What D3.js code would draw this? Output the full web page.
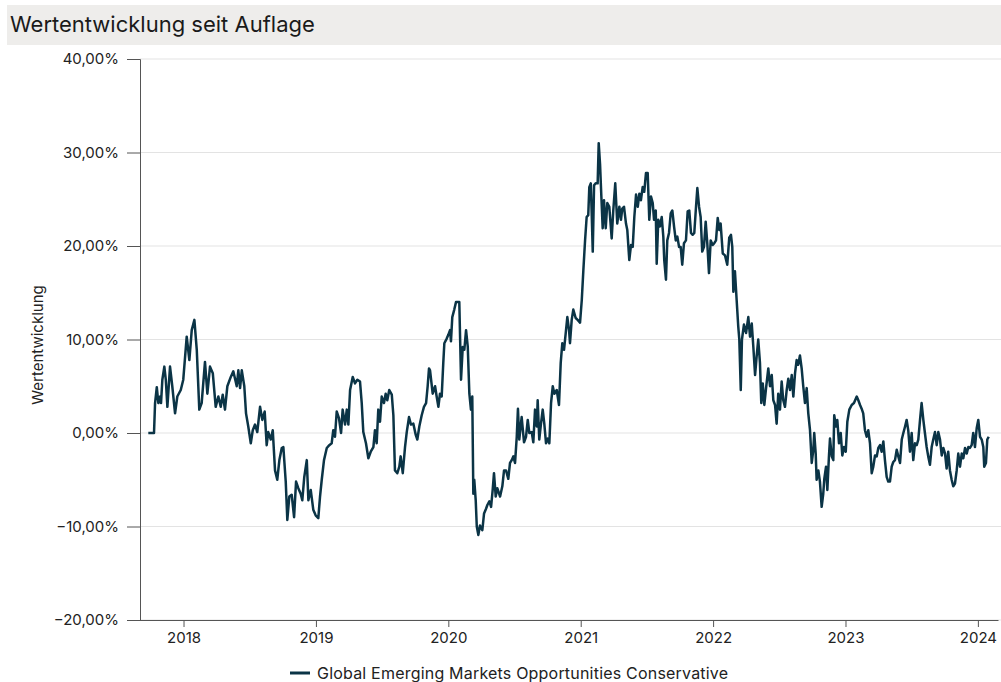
<!DOCTYPE html>
<html>
<head>
<meta charset="utf-8">
<script src="https://cdn.jsdelivr.net/npm/d3@7"></script>
<style>
  html, body { margin: 0; padding: 0; background: #fff; }
  svg { display: block; }
</style>
</head>
<body>
<div id="chart"></div>
<script>
// --- DATA ---
const TITLE = "Wertentwicklung seit Auflage";
const Y_TITLE = "Wertentwicklung";
const SERIES_NAME = "Global Emerging Markets Opportunities Conservative";
const yTicks = [-20, -10, 0, 10, 20, 30, 40];
const xTicks = [2018, 2019, 2020, 2021, 2022, 2023, 2024];

// time as decimal years
const dates = [
  2017.734, 2017.777, 2017.785, 2017.798, 2017.810, 2017.823, 2017.830, 2017.840, 2017.855, 2017.866,
  2017.878, 2017.898, 2017.915, 2017.936, 2017.953, 2017.979, 2017.998, 2018.024, 2018.044, 2018.062,
  2018.082, 2018.100, 2018.119, 2018.137, 2018.162, 2018.180, 2018.200, 2018.221, 2018.243, 2018.263,
  2018.281, 2018.296, 2018.313, 2018.331, 2018.357, 2018.376, 2018.402, 2018.414, 2018.427, 2018.440,
  2018.459, 2018.472, 2018.489, 2018.508, 2018.523, 2018.540, 2018.557, 2018.578, 2018.595, 2018.613,
  2018.628, 2018.640, 2018.659, 2018.674, 2018.691, 2018.708, 2018.724, 2018.742, 2018.754, 2018.772,
  2018.784, 2018.799, 2018.817, 2018.835, 2018.850, 2018.867, 2018.885, 2018.897, 2018.912, 2018.931,
  2018.943, 2018.961, 2018.980, 2018.998, 2019.018, 2019.031, 2019.044, 2019.061, 2019.082, 2019.101,
  2019.119, 2019.131, 2019.144, 2019.157, 2019.174, 2019.190, 2019.202, 2019.220, 2019.233, 2019.245,
  2019.258, 2019.278, 2019.295, 2019.313, 2019.333, 2019.346, 2019.358, 2019.378, 2019.396, 2019.414,
  2019.434, 2019.446, 2019.459, 2019.471, 2019.484, 2019.497, 2019.514, 2019.527, 2019.539, 2019.554,
  2019.573, 2019.585, 2019.597, 2019.615, 2019.630, 2019.640, 2019.656, 2019.673, 2019.686, 2019.703,
  2019.718, 2019.736, 2019.754, 2019.766, 2019.781, 2019.799, 2019.816, 2019.832, 2019.844, 2019.854,
  2019.862, 2019.882, 2019.900, 2019.912, 2019.925, 2019.937, 2019.950, 2019.962, 2019.970, 2019.988,
  2020.000, 2020.013, 2020.020, 2020.030, 2020.045, 2020.058, 2020.083, 2020.096, 2020.109, 2020.121,
  2020.134, 2020.147, 2020.159, 2020.171, 2020.181, 2020.189, 2020.196, 2020.207, 2020.215, 2020.227,
  2020.239, 2020.257, 2020.270, 2020.285, 2020.295, 2020.310, 2020.323, 2020.335, 2020.345, 2020.358,
  2020.370, 2020.391, 2020.408, 2020.421, 2020.436, 2020.453, 2020.466, 2020.479, 2020.491, 2020.504,
  2020.517, 2020.526, 2020.536, 2020.554, 2020.572, 2020.587, 2020.600, 2020.612, 2020.630, 2020.642,
  2020.655, 2020.668, 2020.675, 2020.687, 2020.700, 2020.713, 2020.725, 2020.738, 2020.751, 2020.763,
  2020.776, 2020.789, 2020.801, 2020.819, 2020.836, 2020.849, 2020.861, 2020.874, 2020.887, 2020.899,
  2020.912, 2020.919, 2020.932, 2020.944, 2020.962, 2020.977, 2020.995, 2021.008, 2021.020, 2021.033,
  2021.045, 2021.057, 2021.065, 2021.076, 2021.083, 2021.091, 2021.101, 2021.113, 2021.128, 2021.136,
  2021.146, 2021.156, 2021.166, 2021.176, 2021.189, 2021.201, 2021.216, 2021.234, 2021.246, 2021.261,
  2021.276, 2021.292, 2021.304, 2021.314, 2021.327, 2021.342, 2021.352, 2021.367, 2021.380, 2021.393,
  2021.405, 2021.418, 2021.431, 2021.443, 2021.455, 2021.468, 2021.480, 2021.493, 2021.506, 2021.518,
  2021.531, 2021.544, 2021.554, 2021.567, 2021.574, 2021.586, 2021.599, 2021.612, 2021.624, 2021.631,
  2021.644, 2021.654, 2021.667, 2021.680, 2021.692, 2021.705, 2021.718, 2021.730, 2021.743, 2021.755,
  2021.767, 2021.780, 2021.795, 2021.808, 2021.820, 2021.833, 2021.846, 2021.858, 2021.871, 2021.881,
  2021.894, 2021.906, 2021.918, 2021.931, 2021.944, 2021.956, 2021.969, 2021.982, 2021.997, 2022.009,
  2022.022, 2022.035, 2022.047, 2022.057, 2022.073, 2022.090, 2022.107, 2022.122, 2022.135, 2022.145,
  2022.153, 2022.165, 2022.178, 2022.190, 2022.198, 2022.209, 2022.218, 2022.233, 2022.249, 2022.266,
  2022.279, 2022.292, 2022.304, 2022.317, 2022.329, 2022.341, 2022.354, 2022.364, 2022.375, 2022.387,
  2022.400, 2022.417, 2022.430, 2022.443, 2022.455, 2022.468, 2022.480, 2022.492, 2022.505, 2022.518,
  2022.530, 2022.543, 2022.556, 2022.568, 2022.581, 2022.594, 2022.606, 2022.619, 2022.631, 2022.643,
  2022.656, 2022.669, 2022.681, 2022.694, 2022.707, 2022.719, 2022.732, 2022.745, 2022.757, 2022.764,
  2022.775, 2022.782, 2022.795, 2022.807, 2022.820, 2022.832, 2022.840, 2022.853, 2022.863, 2022.875,
  2022.883, 2022.896, 2022.908, 2022.915, 2022.928, 2022.938, 2022.951, 2022.964, 2022.976, 2022.989,
  2023.002, 2023.014, 2023.029, 2023.047, 2023.064, 2023.085, 2023.097, 2023.110, 2023.122, 2023.134,
  2023.147, 2023.160, 2023.172, 2023.185, 2023.198, 2023.210, 2023.223, 2023.236, 2023.248, 2023.261,
  2023.273, 2023.286, 2023.298, 2023.311, 2023.323, 2023.336, 2023.349, 2023.361, 2023.374, 2023.387,
  2023.399, 2023.412, 2023.425, 2023.437, 2023.450, 2023.462, 2023.474, 2023.487, 2023.500, 2023.512,
  2023.525, 2023.538, 2023.550, 2023.563, 2023.575, 2023.588, 2023.600, 2023.613, 2023.625, 2023.638,
  2023.651, 2023.663, 2023.676, 2023.689, 2023.701, 2023.714, 2023.727, 2023.739, 2023.752, 2023.764,
  2023.776, 2023.789, 2023.802, 2023.814, 2023.827, 2023.840, 2023.852, 2023.865, 2023.878, 2023.890,
  2023.903, 2023.916, 2023.928, 2023.940, 2023.953, 2023.965, 2023.978, 2023.991, 2024.003, 2024.016,
  2024.029, 2024.041, 2024.048, 2024.061, 2024.071, 2024.082
];

// cumulative performance in %
const performance = [
  0.0, 0.0, 3.2, 4.9, 3.2, 3.9, 3.2, 5.7, 7.1, 5.7,
  2.8, 7.1, 5.0, 2.1, 3.9, 4.6, 5.7, 10.3, 7.8, 11.0,
  12.1, 8.9, 2.5, 3.2, 7.6, 4.2, 7.1, 6.4, 2.8, 3.9,
  2.8, 4.1, 2.5, 5.0, 6.0, 6.6, 5.0, 6.7, 4.8, 6.7,
  5.0, 2.1, 0.7, -1.1, 0.3, 0.9, 0.1, 2.8, 1.4, 2.3,
  -1.3, 0.1, -0.7, 0.3, -4.0, -5.0, -2.9, -1.6, -1.5, -5.2,
  -9.3, -6.8, -6.6, -9.0, -5.2, -5.9, -6.5, -7.2, -4.7, -2.9,
  -7.2, -6.1, -8.2, -8.8, -9.1, -6.8, -5.0, -2.9, -1.6, -1.3,
  -1.1, 0.3, -0.4, 2.3, 1.6, 0.0, 2.5, 0.9, 2.5, 0.9,
  4.6, 6.0, 5.3, 5.7, 5.5, 3.2, 0.1, -1.1, -2.7, -2.0,
  -1.5, 0.3, -1.1, 2.5, 1.2, 3.9, 3.2, 4.2, 3.5, 4.6,
  4.1, 1.9, -4.0, -4.3, -3.6, -2.5, -4.3, -1.5, 0.1, 1.7,
  0.9, 1.0, -0.2, -0.7, 0.7, 1.9, 2.8, 3.2, 5.0, 6.9,
  6.7, 4.2, 5.0, 3.9, 2.8, 4.2, 3.9, 7.5, 9.6, 10.1,
  10.5, 11.0, 9.8, 12.4, 13.2, 14.0, 14.0, 5.7, 9.2, 8.9,
  11.0, 9.2, 4.2, 2.5, 3.9, -6.5, -5.0, -7.2, -10.0, -10.9,
  -9.9, -10.4, -8.6, -8.1, -7.7, -7.3, -7.9, -6.1, -4.3, -6.8,
  -5.9, -6.8, -5.7, -4.0, -4.0, -4.9, -3.2, -2.9, -2.5, -3.2,
  -0.4, 2.6, -0.7, 1.7, -1.0, -0.4, 1.4, 0.0, 0.1, -1.0,
  2.5, 0.7, 3.5, -0.7, 1.0, 2.5, 1.0, -1.1, -0.6, -1.1,
  3.2, 5.0, 4.2, 4.6, 3.0, 7.5, 9.6, 8.9, 10.7, 12.4,
  11.0, 9.6, 12.1, 13.2, 12.3, 12.1, 11.8, 14.2, 17.4, 20.6,
  23.1, 23.3, 26.3, 26.7, 23.5, 19.4, 26.5, 26.7, 26.7, 31.0,
  28.8, 25.3, 21.9, 24.9, 21.9, 24.6, 24.2, 20.8, 23.8, 26.7,
  22.4, 24.2, 22.8, 24.0, 24.2, 22.4, 21.7, 18.5, 20.1, 19.9,
  23.1, 25.5, 24.2, 25.6, 24.9, 26.3, 25.8, 27.8, 27.8, 22.8,
  25.3, 24.6, 22.8, 23.8, 18.1, 22.8, 22.1, 23.1, 21.0, 18.5,
  16.4, 20.6, 21.4, 23.5, 23.8, 22.1, 20.6, 21.0, 19.9, 19.9,
  18.0, 20.3, 20.6, 23.7, 23.8, 21.4, 21.2, 21.4, 24.2, 26.2,
  24.2, 23.1, 19.4, 19.9, 22.6, 20.3, 17.1, 20.6, 20.1, 20.3,
  20.6, 23.0, 21.7, 22.4, 19.2, 19.0, 18.0, 20.9, 21.2, 19.9,
  15.1, 17.3, 14.2, 11.4, 10.0, 4.6, 10.0, 11.6, 10.7, 12.4,
  10.3, 11.7, 9.2, 6.2, 8.2, 10.0, 7.5, 3.2, 5.3, 3.0,
  4.8, 6.9, 5.0, 6.2, 3.5, 3.0, 1.0, 4.2, 2.5, 5.5,
  3.5, 2.8, 4.6, 5.8, 4.6, 6.2, 3.9, 6.4, 7.8, 7.3,
  8.3, 6.9, 5.0, 3.2, 4.8, 2.1, 0.3, -3.2, -1.8, 0.0,
  -2.2, -5.0, -4.0, -5.2, -7.9, -6.5, -4.9, -3.6, -6.1, -2.5,
  -0.6, -2.5, -2.9, 1.9, 0.7, 1.4, -1.1, 0.0, -2.4, -1.5,
  -2.0, 1.2, 2.5, 3.0, 3.2, 3.9, 3.5, 3.0, 2.6, 2.1,
  0.3, -0.4, 0.3, -1.1, -4.3, -3.6, -2.4, -2.5, -1.6, -1.3,
  -2.0, -0.9, -2.9, -4.7, -5.2, -5.2, -3.6, -3.1, -2.9, -1.8,
  -2.5, -3.2, -0.7, 0.0, 0.7, 1.4, 0.3, -2.0, 0.0, -2.9,
  -1.1, -1.3, -0.7, 1.4, 3.2, 1.4, 0.0, -1.5, -2.5, -3.4,
  -1.5, -0.7, 0.1, -1.3, 0.1, -0.7, -2.4, -1.6, -2.2, -3.8,
  -2.0, -4.0, -5.0, -5.7, -5.4, -4.0, -2.2, -3.6, -2.2, -2.7,
  -1.6, -2.2, -1.5, -1.6, -1.3, 0.0, -1.5, 0.5, 1.4, -0.4,
  -0.7, -1.5, -3.6, -3.2, -0.7, -0.4
];

// --- CONFIGURATION ---
const WIDTH = 1001;
const HEIGHT = 682;
const FONT = "Inter, 'Noto Sans', sans-serif";
const LINE_COLOR = "#0b3446";
const X_DOMAIN = [2017.573, 2024.152];

const de = d3.formatLocale({ decimal: ",", thousands: ".", grouping: [3], currency: ["", " €"] });
const pct = v => de.format(".2f")(v) + "%";

const data = dates.map((t, i) => ({ t, v: performance[i] }));

const svg = d3.select("#chart")
  .append("svg")
  .attr("width", WIDTH)
  .attr("height", HEIGHT)
  .style("font-family", FONT);

// title bar
svg.append("rect")
  .attr("x", 7).attr("y", 5)
  .attr("width", WIDTH - 7).attr("height", 40)
  .attr("fill", "#eeedeb");

svg.append("text")
  .attr("x", 10).attr("y", 32)
  .attr("font-size", 22)
  .attr("fill", "#1a1a1a")
  .text(TITLE);

// scales
const x = d3.scaleLinear().domain(X_DOMAIN).range([127, 998]);
const y = d3.scaleLinear().domain([-20, 40]).range([620, 59]);

// gridlines
svg.append("g")
  .selectAll("line")
  .data(yTicks)
  .join("line")
  .attr("x1", 140).attr("x2", WIDTH)
  .attr("y1", d => y(d)).attr("y2", d => y(d))
  .attr("stroke", "#e3e3e3")
  .attr("stroke-width", 1);

// y axis
const yAxis = svg.append("g")
  .attr("transform", "translate(140,0)")
  .call(d3.axisLeft(y).tickValues(yTicks).tickFormat(pct).tickSize(13).tickPadding(8));
yAxis.select(".domain").attr("stroke", "#555");
yAxis.selectAll(".tick line").attr("stroke", "#555");
yAxis.selectAll("text").attr("font-size", 15).attr("fill", "#222").attr("font-family", FONT);

// x axis
const xAxis = svg.append("g")
  .attr("transform", "translate(0,620)")
  .call(d3.axisBottom(x).tickValues(xTicks).tickFormat(d3.format("d")).tickSize(7).tickSizeOuter(0).tickPadding(5));
xAxis.select(".domain").attr("stroke", "#555");
xAxis.selectAll(".tick line").attr("stroke", "#555");
xAxis.selectAll("text").attr("font-size", 15).attr("fill", "#222").attr("font-family", FONT);

// y title
svg.append("text")
  .attr("transform", "translate(43,345) rotate(-90)")
  .attr("text-anchor", "middle")
  .attr("font-size", 15)
  .attr("fill", "#222")
  .text(Y_TITLE);

// series line
const line = d3.line()
  .x(d => x(d.t))
  .y(d => y(d.v));

svg.append("path")
  .datum(data)
  .attr("fill", "none")
  .attr("stroke", LINE_COLOR)
  .attr("stroke-width", 2.5)
  .attr("stroke-linejoin", "round")
  .attr("d", line);

// legend
const legend = svg.append("g").attr("transform", "translate(290,673)");
legend.append("line")
  .attr("x1", 0).attr("x2", 20)
  .attr("stroke", LINE_COLOR)
  .attr("stroke-width", 3);
legend.append("text")
  .attr("x", 27).attr("dy", "0.35em")
  .attr("font-size", 16)
  .attr("letter-spacing", 0.2)
  .attr("fill", "#222")
  .text(SERIES_NAME);
</script>
</body>
</html>
